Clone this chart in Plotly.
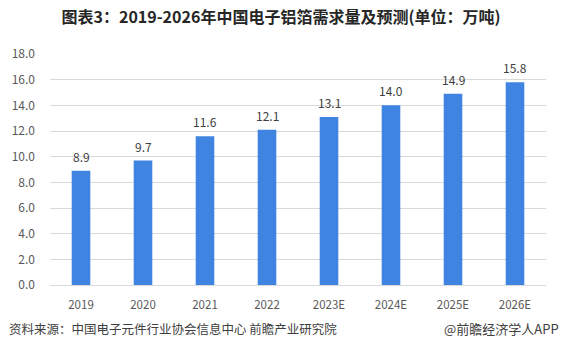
import plotly.graph_objects as go

categories = ["2019", "2020", "2021", "2022", "2023E", "2024E", "2025E", "2026E"]
values = [8.9, 9.7, 11.6, 12.1, 13.1, 14.0, 14.9, 15.8]
y_ticks = [0, 2, 4, 6, 8, 10, 12, 14, 16, 18]

font_family = "Noto Sans CJK SC, Noto Sans, sans-serif"

fig = go.Figure(go.Bar(
    x=categories, y=values,
    marker=dict(color="#3F84E0", line=dict(width=0)),
    width=0.30,
))

# category axis: annotation x given as category index
label_annotations = [
    dict(x=i, y=v, text=f"{v:.1f}", xref="x", yref="y",
         xanchor="center", yanchor="bottom", yshift=4, showarrow=False,
         font=dict(size=12, color="#404040", family=font_family))
    for i, v in enumerate(values)
]

fig.update_layout(
    width=562, height=353,
    margin=dict(l=44, r=16, t=54, b=68),
    paper_bgcolor="white", plot_bgcolor="white",
    showlegend=False,
    title=dict(
        text="<b>图表3：2019-2026年中国电子铝箔需求量及预测(单位：万吨)</b>",
        x=0.5, xanchor="center", y=1 - 17/353, yanchor="middle",
        font=dict(size=16, color="#262626", family=font_family),
    ),
    xaxis=dict(
        type="category", categoryorder="array", categoryarray=categories,
        range=[-0.5, len(categories) - 0.5],
        showgrid=False, showline=True, linecolor="#d9d9d9", linewidth=1,
        tickfont=dict(size=11.5, color="#595959", family=font_family),
        ticks="", ticklabelstandoff=9,
    ),
    yaxis=dict(
        range=[0, 18], tickvals=y_ticks,
        ticktext=[f"{v:.1f}" for v in y_ticks],
        showgrid=True, gridcolor="#d9d9d9", gridwidth=1,
        zeroline=False, showline=False,
        tickfont=dict(size=12, color="#595959", family=font_family),
        ticks="", ticklabelstandoff=14,
    ),
    annotations=label_annotations + [
        dict(text="资料来源：中国电子元件行业协会信息中心 前瞻产业研究院",
             xref="paper", yref="paper", x=-44/502, y=-43/231,
             xanchor="left", yanchor="middle", showarrow=False,
             font=dict(size=12.5, color="#404040", family=font_family)),
        dict(text="@前瞻经济学人APP",
             xref="paper", yref="paper", x=1 + 15/502, y=-43/231,
             xanchor="right", yanchor="middle", showarrow=False,
             font=dict(size=13, color="#404040", family=font_family)),
    ],
)

fig.write_html("out.html")
